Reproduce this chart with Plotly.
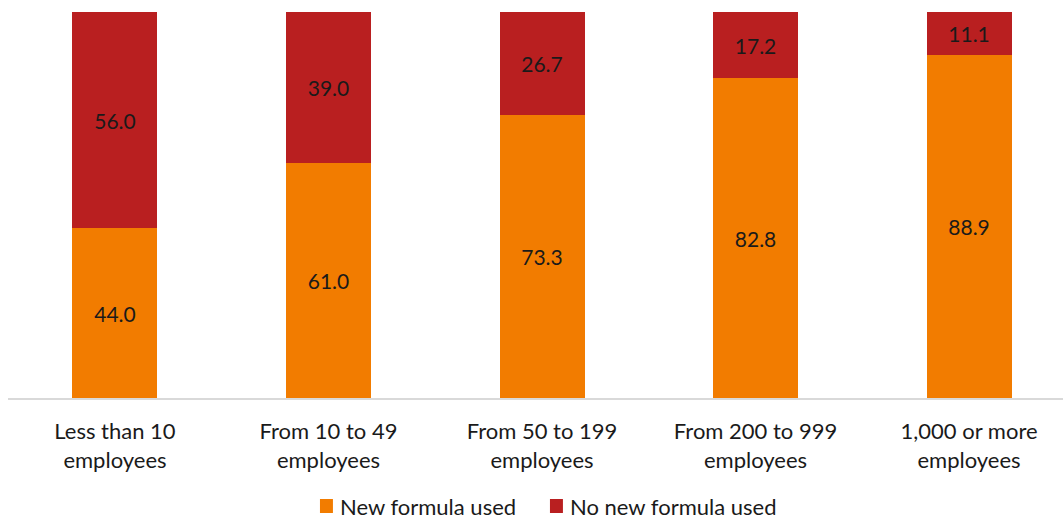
import plotly.graph_objects as go

categories = ["Less than 10<br>employees", "From 10 to 49<br>employees", "From 50 to 199<br>employees",
              "From 200 to 999<br>employees", "1,000 or more<br>employees"]
new_formula = [44.0, 61.0, 73.3, 82.8, 88.9]
no_new_formula = [56.0, 39.0, 26.7, 17.2, 11.1]
series_names = ["New formula used", "No new formula used"]
series_colors = ["#F27C00", "#B91F20"]

FONT = "Lato, 'Open Sans', sans-serif"
LABEL_SIZE = 21

fig = go.Figure()
for name, values, color in zip(series_names, [new_formula, no_new_formula], series_colors):
    fig.add_trace(go.Bar(
        x=categories, y=values, name=name,
        marker=dict(color=color, line=dict(width=0)),
        text=[f"{v:.1f}" for v in values], textposition="inside",
        insidetextanchor="middle",
        textfont=dict(color="#1a1a1a", size=LABEL_SIZE, family=FONT),
        showlegend=False,
    ))

# Legend drawn as swatches + text beneath the axis labels
legend_x = [0.2957, 0.5137]  # swatch left edges (paper fraction)
swatch_w = 0.0123
for x0, name, color in zip(legend_x, series_names, series_colors):
    fig.add_shape(type="rect", xref="paper", yref="paper",
                  x0=x0, x1=x0 + swatch_w, y0=-0.2979, y1=-0.2617,
                  fillcolor=color, line=dict(width=0))
    fig.add_annotation(xref="paper", yref="paper", x=x0 + swatch_w + 0.0055, y=-0.2798,
                       xanchor="left", yanchor="middle", text=name, showarrow=False,
                       borderpad=0,
                       font=dict(family=FONT, size=22, color="#1a1a1a"))

fig.update_layout(
    barmode="stack", bargap=0.602,
    width=1063, height=520,
    margin=dict(l=8, r=0, t=12, b=122),
    paper_bgcolor="white", plot_bgcolor="white",
    font=dict(family=FONT, size=22, color="#1a1a1a"),
    uniformtext=dict(mode=False),
    showlegend=False,
    xaxis=dict(showline=True, linecolor="#d9d9d9", linewidth=2, ticks="",
               range=[-0.501, 4.44], ticklabelstandoff=13, automargin=False,
               tickfont=dict(size=22), showgrid=False),
    yaxis=dict(range=[0, 100], visible=False, showgrid=False),
)

fig.write_html("out.html")
